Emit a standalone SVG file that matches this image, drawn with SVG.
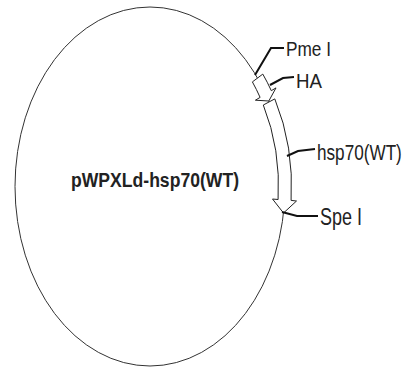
<svg xmlns="http://www.w3.org/2000/svg" width="412" height="367" viewBox="0 0 412 367">
<style>
.bb{fill:none;stroke:#333;stroke-width:1}
.arr{fill:#fff;stroke:#222;stroke-width:1;stroke-linejoin:miter}
.ld{fill:none;stroke:#111;stroke-width:2}
.lb{font-family:"Liberation Sans",Arial,sans-serif;font-size:21px;fill:#222}
.ti{font-family:"Liberation Sans",Arial,sans-serif;font-size:20px;font-weight:bold;fill:#222}
</style>
<rect width="412" height="367" fill="#fff"/>
<g id="backbone">
<ellipse class="bb" cx="150" cy="186.5" rx="135" ry="179.5"/>
<text class="ti" x="71" y="187" textLength="168" lengthAdjust="spacingAndGlyphs">pWPXLd-hsp70(WT)</text>
</g>
<g id="ha">
<path class="arr" d="M262.8 74.1 A141.5 186 0 0 1 271.3 90.7 L276 87.9 L268.8 101 L255.4 100.2 L260.1 97.4 A128.5 173 0 0 0 252.4 81.9 Z"/>
<text class="lb" x="296" y="88" textLength="26" lengthAdjust="spacingAndGlyphs">HA</text>
</g>
<g id="hsp70">
<path class="arr" d="M274.8 98.9 A141.5 186 0 0 1 291.1 200.4 L296.5 201 L283.5 213 L272.5 199 L278.1 199.5 A128.5 173 0 0 0 263.3 105 Z"/>
<text class="lb" transform="translate(317 160) scale(0.78 1)" style="font-size:22px">hsp70(WT)</text>
</g>
<g id="pmei">
<text class="lb" x="286" y="56" textLength="45" lengthAdjust="spacingAndGlyphs">Pme I</text>
</g>
<g id="spei">
<text class="lb" x="320" y="225" style="font-size:23px" textLength="42" lengthAdjust="spacingAndGlyphs">Spe I</text>
</g>
<g id="connectors">
<polyline class="ld" points="255,75 271,48 284,48"/>
<polyline class="ld" points="270,85 283,78 294,77"/>
<polyline class="ld" points="287,156 298,151 315,149"/>
<polyline class="ld" points="282,212 297,216 318,216"/>
</g>
</svg>
